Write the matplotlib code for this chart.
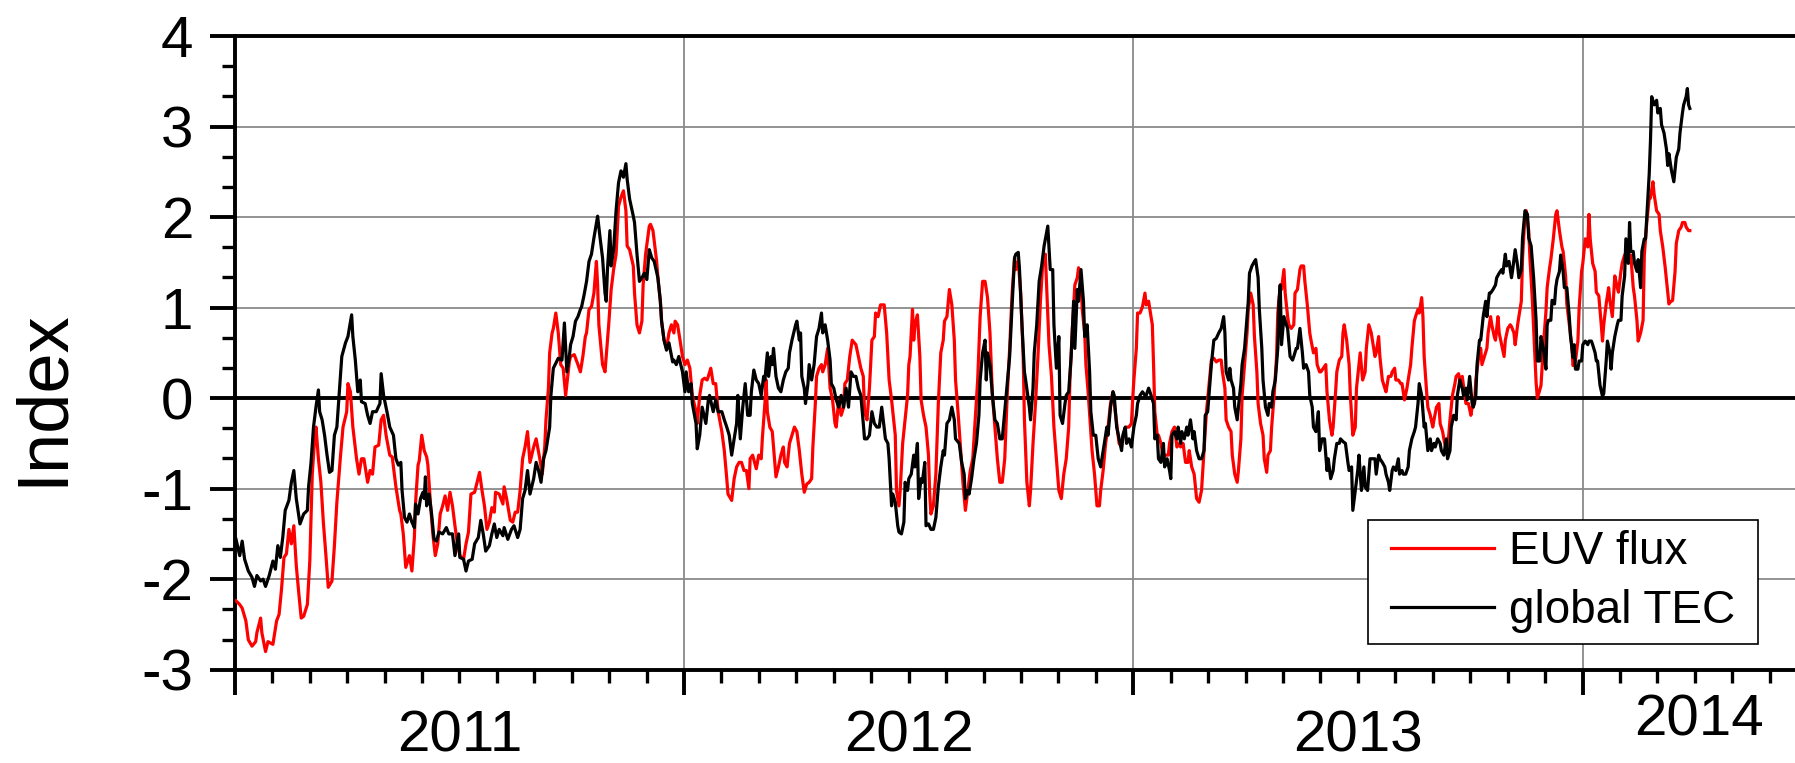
import numpy as np
import matplotlib
matplotlib.use('Agg')
import matplotlib.pyplot as plt
from matplotlib.ticker import FixedLocator
from matplotlib.patches import Rectangle

plt.rcParams['font.family'] = ['Liberation Sans', 'DejaVu Sans']
plt.rcParams['axes.unicode_minus'] = False

# days since 2011-01-01, global TEC index
tec_days = [
    1, 4, 6, 8, 11, 14, 16, 18, 21, 23, 25, 28, 31, 33, 35, 37, 39, 41, 44, 46,
    48, 50, 53, 56, 59, 60, 62, 64, 66, 68, 69, 71, 73, 75, 77, 79, 81, 83, 85, 87,
    90, 92, 95, 96, 98, 100, 102, 103, 106, 108, 110, 112, 115, 118, 119, 121, 124, 126, 129,
    131, 133, 135, 136, 138, 140, 142, 144, 146, 147, 149, 151, 153, 154, 155, 156, 158, 160, 162, 164,
    166, 169, 172, 174, 177, 179, 182, 183, 186, 188, 190, 193, 195, 198, 200, 202, 204, 207, 209, 211,
    213, 215, 218, 219, 222, 225, 227, 230, 232, 234, 236, 238, 240, 243, 245, 247, 249, 251, 253, 256,
    257, 259,
    263, 266, 268, 270, 272, 273, 275, 277, 279, 281, 282, 284, 286, 288, 290, 292, 293, 295, 297, 299,
    301, 302, 303, 305, 306, 308, 310, 312, 314, 316, 318, 319, 321, 324, 325, 327, 329, 331, 333, 335,
    337, 339, 341, 344, 346, 347, 349, 351, 353, 356, 357, 359, 361, 364, 366, 367, 369, 371, 372, 375,
    376, 378, 380, 383, 385, 386, 389, 391, 393,
    396, 398, 400, 402, 404, 406, 408, 409, 411, 413, 415, 417, 419, 420, 422, 424, 426, 428, 430, 431,
    433, 434, 436, 437, 438, 440, 442, 444, 446, 448, 450, 451, 453, 456, 457, 459, 460, 461, 463, 464,
    466, 467, 469, 471, 473, 475, 477, 478, 480, 482, 484, 485, 487, 489, 491, 493, 495, 497, 499, 501,
    503, 505, 507, 509, 511, 512, 514, 516, 518, 520, 522, 524, 526,
    529, 531, 532, 534, 535, 537, 539, 540, 542, 544, 545, 547, 548, 550, 552, 553, 555, 556, 558, 559,
    561, 562, 564, 566, 568, 570, 572, 574, 576, 577, 579, 581, 583, 585, 586, 589, 591, 593, 594, 596,
    597, 599, 601, 603, 605, 606, 608, 610, 611, 612, 614, 616, 618, 620, 622, 624, 626, 628, 630, 632,
    634, 635, 637, 638, 640, 642, 643, 646, 647, 649, 650, 652, 654, 656, 658,
    661, 663, 665, 666, 668, 670, 671, 673, 675, 676, 678, 680, 682, 683, 685, 686, 688, 690, 691, 693,
    695, 696, 698, 700, 702, 704, 705, 707, 709, 710, 712, 714, 715, 717, 719, 721, 722, 724, 725, 727,
    729, 731, 733, 734, 736, 738, 740, 741, 743, 745, 747, 748, 750, 751, 753, 755, 756, 758, 760, 761,
    762, 764, 766, 767, 769, 770, 772, 774, 775, 777, 779, 780, 782, 784, 786, 788, 789, 791,
    794, 796, 798, 800, 802, 804, 805, 806, 808, 809, 810, 812, 813, 815, 816, 818, 819, 821, 823, 824,
    825, 827, 829, 830, 832, 833, 835, 836, 838, 840, 841, 843, 844, 846, 848, 849, 850, 851, 853, 855,
    856, 858, 860, 861, 863, 864, 866, 868, 869, 871, 873, 874, 876, 877, 879, 881, 882, 884, 886, 888,
    889, 891, 893, 894, 896, 898, 899, 901, 903, 905, 906, 908, 909, 911, 913, 914, 916, 918, 919, 921,
    923,
    927, 928, 930, 931, 933, 935, 936, 938, 939, 941, 942, 944, 946, 947, 949, 950, 952, 954, 955, 957,
    959, 960, 962, 963, 965, 967, 968, 970, 972, 973, 975, 976, 978, 980, 981, 983, 985, 986, 988, 989,
    991, 993, 994, 996, 998, 999, 1001, 1002, 1004, 1006, 1007, 1009, 1010, 1012, 1013, 1015, 1017, 1018, 1020, 1021,
    1023, 1025, 1026, 1028, 1030, 1031, 1033, 1034, 1036, 1038, 1039, 1041, 1043, 1044, 1046, 1047, 1049, 1051, 1052, 1054,
    1056,
    1058, 1059, 1061, 1062, 1064, 1066, 1067, 1068, 1070, 1071, 1073, 1074, 1075, 1077, 1078, 1080, 1081, 1083, 1085, 1086,
    1088, 1089, 1090, 1092, 1093, 1095, 1096, 1098, 1100, 1101, 1103, 1104, 1106, 1107, 1108, 1110, 1112, 1113, 1115, 1116,
    1118, 1119, 1120, 1122, 1124, 1125, 1127, 1128, 1130, 1131, 1133, 1134, 1135, 1137, 1138, 1140, 1141, 1143, 1144, 1146,
    1147, 1149, 1150, 1151, 1152, 1154, 1156, 1157, 1159, 1160, 1162, 1164, 1165, 1166, 1168, 1170, 1171, 1172, 1174, 1175,
    1177, 1178, 1180, 1181, 1182, 1183,
]
tec_vals = [
    -1.56, -1.74, -1.58, -1.78, -1.91, -1.98, -2.08, -1.96, -2.02, -2.00, -2.08, -1.96, -1.80, -1.89, -1.63, -1.76, -1.54, -1.24, -1.13, -0.93,
    -0.80, -1.11, -1.39, -1.28, -1.24, -0.98, -0.71, -0.32, -0.10, 0.09, -0.15, -0.24, -0.41, -0.63, -0.82, -0.80, -0.41, -0.32, 0.07, 0.46,
    0.61, 0.68, 0.92, 0.68, 0.42, 0.07, 0.20, -0.04, -0.06, -0.19, -0.28, -0.15, -0.15, -0.06, 0.27, 0.03, -0.17, -0.32, -0.41,
    -0.67, -0.74, -0.71, -1.02, -1.32, -1.37, -1.28, -1.37, -1.43, -1.17, -1.28, -1.11, -1.04, -1.11, -0.87, -1.19, -1.06, -1.28, -1.56, -1.58,
    -1.48, -1.50, -1.43, -1.50, -1.50, -1.74, -1.50, -1.76, -1.78, -1.91, -1.80, -1.78, -1.61, -1.54, -1.35, -1.50, -1.69, -1.63, -1.50, -1.39,
    -1.54, -1.45, -1.52, -1.43, -1.56, -1.45, -1.41, -1.54, -1.45, -1.11, -1.02, -0.80, -1.06, -0.89, -0.71, -0.80, -0.93, -0.67, -0.58, -0.32,
    0.03, 0.33,
    0.44, 0.42, 0.83, 0.29, 0.46, 0.59, 0.68, 0.85, 0.90, 0.98, 1.01, 1.14, 1.29, 1.51, 1.59, 1.77, 1.85, 2.01, 1.77, 1.55,
    1.16, 1.07, 1.42, 1.85, 1.46, 1.64, 2.07, 2.38, 2.51, 2.44, 2.59, 2.42, 2.20, 2.01, 1.94, 1.59, 1.29, 1.33, 1.38, 1.31,
    1.64, 1.55, 1.51, 1.33, 1.07, 0.85, 0.64, 0.53, 0.61, 0.40, 0.42, 0.37, 0.46, 0.29, 0.07, 0.29, 0.07, 0.16, -0.06, -0.28,
    -0.56, -0.41, -0.10, -0.28, -0.02, 0.03, -0.15, -0.02, -0.15,
    -0.15, -0.24, -0.32, -0.41, -0.63, -0.45, -0.28, 0.03, -0.45, -0.10, 0.16, -0.19, -0.19, 0.07, 0.31, 0.20, 0.16, 0.03, 0.24, 0.20,
    0.50, 0.24, 0.46, 0.37, 0.55, 0.24, 0.11, 0.07, 0.20, 0.29, 0.33, 0.50, 0.64, 0.81, 0.85, 0.64, 0.72, 0.24, 0.11, -0.06,
    0.16, 0.37, 0.20, 0.37, 0.68, 0.77, 0.94, 0.72, 0.81, 0.64, 0.42, 0.16, 0.11, -0.02, -0.10, 0.03, -0.10, 0.11, -0.10, 0.29,
    0.24, 0.24, 0.11, 0.03, -0.28, -0.45, -0.45, -0.41, -0.15, -0.28, -0.32, -0.32, -0.10,
    -0.45, -0.50, -0.67, -1.19, -1.06, -1.15, -1.41, -1.48, -1.50, -1.37, -0.93, -1.02, -0.89, -0.84, -0.63, -0.76, -0.50, -1.11, -0.89, -0.93,
    -0.71, -1.41, -1.39, -1.45, -1.45, -1.32, -0.98, -0.76, -0.58, -0.63, -0.28, -0.24, -0.10, -0.24, -0.45, -0.50, -0.71, -0.84, -1.11, -1.02,
    -1.06, -0.89, -0.67, -0.50, -0.19, 0.20, 0.50, 0.64, 0.20, 0.50, 0.37, 0.03, -0.24, -0.28, -0.45, -0.45, -0.15, 0.16, 0.46, 1.03,
    1.55, 1.59, 1.61, 1.42, 0.81, 0.29, 0.20, -0.10, -0.24, 0.11, 0.50, 0.81, 1.29, 1.46, 1.68,
    1.90, 1.42, 1.42, 0.81, 0.33, 0.68, -0.19, -0.28, -0.06, 0.03, 0.07, 0.46, 1.07, 0.55, 1.20, 1.07, 1.42, 1.07, 0.68, 0.81,
    0.29, -0.15, -0.41, -0.41, -0.67, -0.76, -0.67, -0.50, -0.32, -0.41, -0.10, 0.07, 0.03, -0.32, -0.45, -0.58, -0.41, -0.32, -0.50, -0.45,
    -0.54, -0.32, -0.19, -0.06, 0.03, 0.07, 0.03, 0.03, 0.11, 0.03, -0.06, -0.45, -0.41, -0.67, -0.71, -0.50, -0.76, -0.67, -0.80, -0.89,
    -0.41, -0.37, -0.45, -0.32, -0.50, -0.37, -0.45, -0.32, -0.41, -0.24, -0.45, -0.37, -0.58, -0.67, -0.67, -0.58, -0.19, -0.15,
    0.37, 0.64, 0.66, 0.72, 0.77, 0.90, 0.72, 0.29, 0.20, 0.33, 0.20, 0.11, -0.10, -0.24, -0.10, 0.16, 0.37, 0.55, 0.90, 1.07,
    1.38, 1.46, 1.51, 1.53, 1.33, 0.98, 0.55, 0.20, -0.10, -0.19, -0.06, -0.10, 0.07, 0.20, 0.55, 1.07, 1.25, 0.59, 0.90, 0.81,
    0.77, 0.46, 0.42, 0.46, 0.55, 0.55, 0.77, 0.50, 0.33, 0.37, 0.29, 0.03, -0.10, -0.32, -0.37, -0.15, -0.58, -0.45, -0.45, -0.80,
    -0.67, -0.89, -0.80, -0.67, -0.50, -0.50, -0.45, -0.48, -0.50, -0.71, -0.80, -0.76, -1.24, -1.02, -0.80, -0.63, -1.02, -0.76, -0.98, -1.02,
    -0.67,
    -0.67, -0.84, -0.63, -0.67, -0.71, -0.76, -0.84, -0.93, -1.02, -0.80, -0.76, -0.80, -0.67, -0.84, -0.80, -0.84, -0.84, -0.76, -0.58, -0.45,
    -0.37, -0.32, -0.06, 0.16, 0.03, -0.32, -0.28, -0.58, -0.45, -0.58, -0.50, -0.54, -0.45, -0.50, -0.58, -0.63, -0.45, -0.67, -0.58, -0.32,
    -0.19, -0.24, 0.03, 0.20, 0.11, 0.03, 0.11, -0.02, 0.24, -0.06, -0.10, 0.03, 0.37, 0.64, 0.64, 0.90, 1.07, 0.90, 1.16, 1.16,
    1.20, 1.25, 1.33, 1.38, 1.42, 1.38, 1.59, 1.46, 1.51, 1.33, 1.42, 1.64, 1.46, 1.33, 1.42, 1.77, 2.07, 2.03, 1.77, 1.68,
    1.33,
    0.86, 0.41, 0.41, 0.68, 0.54, 0.32, 0.81, 0.86, 0.86, 1.08, 1.04, 1.22, 1.31, 1.40, 1.58, 1.40, 1.22, 1.22, 0.90, 0.68,
    0.45, 0.59, 0.32, 0.32, 0.41, 0.41, 0.59, 0.63, 0.59, 0.63, 0.63, 0.59, 0.50, 0.41, 0.41, 0.14, 0.02, 0.05, 0.41, 0.63,
    0.50, 0.32, 0.50, 0.68, 0.81, 0.86, 0.86, 1.13, 1.35, 1.76, 1.49, 1.94, 1.62, 1.62, 1.49, 1.40, 1.53, 1.22, 1.62, 1.76,
    1.76, 2.25, 2.48, 2.84, 3.33, 3.24, 3.29, 3.15, 3.20, 3.02, 2.93, 2.75, 2.57, 2.70, 2.52, 2.39, 2.52, 2.66, 2.75, 2.93,
    3.15, 3.24, 3.33, 3.42, 3.24, 3.20,
]

# days since 2011-01-01, EUV flux index
euv_days = [
    1, 4, 6, 9, 11, 14, 17, 18, 21, 22, 25, 27, 31, 34, 36, 38, 40, 42, 44, 46,
    48, 50, 52, 54, 56, 59, 61, 63, 65, 66, 68, 70, 72, 74, 76, 79, 81, 83, 86, 88,
    91, 92, 94, 96, 99, 101, 103, 105, 108, 110, 112, 114, 117, 119, 121, 123, 126, 128,
    131, 134, 135, 137, 139, 142, 144, 146, 147, 149, 150, 152, 154, 156, 157, 159, 161, 163, 165, 167,
    169, 171, 173, 175, 177, 179, 181, 183, 186, 188, 190, 192, 195, 199, 201, 203, 205, 207, 209, 211,
    212, 215, 218, 219, 221, 224, 226, 228, 230, 232, 234, 236, 238, 240, 243, 245, 248, 250, 252, 253,
    255, 256, 258, 259, 261,
    263, 265, 267, 269, 272, 273, 276, 279, 281, 283, 285, 286, 288, 290, 292, 294, 295, 296, 299, 301,
    302, 304, 306, 308, 310, 312, 314, 316, 318, 319, 321, 324, 325, 327, 329, 331, 332, 334, 337, 338,
    340, 343, 344, 346, 347, 349, 351, 353, 355, 357, 358, 360, 362, 364, 366, 368, 370, 372, 375, 376,
    378, 380, 382, 384, 385, 387, 389, 391, 393,
    396, 398, 400, 401, 404, 406, 408, 410, 412, 414, 416, 418, 419, 421, 424, 426, 428, 429, 431, 432,
    433, 435, 437, 439, 440, 442, 444, 446, 447, 449, 451, 453, 455, 457, 459, 461, 463, 465, 467, 469,
    470, 472, 473, 475, 477, 478, 480, 482, 484, 486, 488, 489, 491, 493, 495, 496, 498, 500, 502, 505,
    507, 509, 511, 512, 514, 516, 518, 520, 521, 523, 525,
    528, 530, 532, 534, 537, 538, 540, 541, 543, 545, 547, 548, 549, 551, 552, 553, 555, 557, 558, 560,
    562, 564, 565, 566, 568, 570, 572, 574, 576, 577, 579, 581, 583, 585, 586, 588, 590, 592, 594, 596,
    598, 600, 602, 604, 606, 608, 610, 612, 614, 616, 618, 620, 622, 624, 626, 628, 630, 632, 634, 635,
    637, 639, 641, 642, 644, 646, 647, 649, 651, 653, 655, 657, 659,
    660, 662, 664, 666, 668, 670, 672, 674, 676, 678, 679, 681, 683, 685, 686, 688, 689, 691, 692, 694,
    696, 697, 699, 701, 703, 704, 706, 708, 710, 712, 714, 715, 717, 719, 721, 723, 725, 727, 729, 730,
    731, 733, 734, 736, 738, 740, 741, 743, 744, 746, 747, 748, 750, 751, 753, 755, 756, 759, 760, 762,
    764, 766, 768, 769, 771, 773, 775, 776, 778, 780, 782, 784, 786, 788, 790,
    794, 796, 798, 800, 802, 803, 805, 806, 808, 810, 811, 813, 815, 816, 818, 819, 821, 823, 824, 826,
    828, 829, 831, 832, 834, 836, 837, 839, 840, 842, 843, 845, 847, 848, 850, 851, 853, 854, 856, 857,
    859, 861, 862, 864, 866, 867, 869, 870, 872, 874, 875, 877, 879, 880, 882, 883, 885, 887, 888, 890,
    892, 893, 895, 896, 898, 900, 901, 902, 904, 906, 907, 909, 911, 912, 914, 915, 917, 919, 920, 922,
    924,
    927, 928, 930, 931, 933, 935, 936, 938, 940, 941, 943, 944, 946, 948, 949, 951, 953, 954, 956, 957,
    959, 960, 962, 963, 965, 966, 967, 969, 970, 972, 974, 975, 977, 979, 980, 982, 983, 985, 987, 988,
    990, 992, 993, 995, 996, 998, 1000, 1001, 1003, 1005, 1006, 1008, 1009, 1011, 1013, 1014, 1016, 1018, 1019, 1021,
    1022, 1024, 1025, 1027, 1028, 1030, 1032, 1033, 1035, 1037, 1038, 1040, 1041, 1043, 1044, 1046, 1047, 1049, 1050, 1052,
    1053, 1055,
    1058, 1059, 1061, 1062, 1064, 1066, 1067, 1069, 1070, 1072, 1074, 1075, 1077, 1079, 1080, 1082, 1083, 1085, 1087, 1088,
    1090, 1092, 1093, 1095, 1096, 1098, 1100, 1101, 1102, 1104, 1106, 1107, 1109, 1111, 1112, 1113, 1115, 1117, 1118, 1120,
    1122, 1124, 1125, 1127, 1128, 1130, 1132, 1133, 1135, 1137, 1138, 1140, 1141, 1143, 1145, 1146, 1148, 1150, 1151, 1153,
    1154, 1156, 1158, 1159, 1161, 1163, 1164, 1166, 1167, 1169, 1171, 1172, 1174, 1176, 1177, 1179, 1180, 1182, 1183,
]
euv_vals = [
    -2.24, -2.28, -2.32, -2.46, -2.67, -2.74, -2.69, -2.59, -2.43, -2.59, -2.80, -2.69, -2.72, -2.46, -2.39, -2.11, -1.76, -1.72, -1.45, -1.61,
    -1.41, -1.85, -2.15, -2.43, -2.41, -2.28, -1.80, -0.84, -0.43, -0.32, -0.67, -0.93, -1.37, -1.72, -2.09, -2.02, -1.63, -1.15, -0.63, -0.32,
    -0.15, 0.16, 0.07, -0.32, -0.67, -0.84, -0.67, -0.67, -0.93, -0.80, -0.84, -0.54, -0.52, -0.24, -0.19, -0.41, -0.63, -0.65,
    -0.98, -1.24, -1.28, -1.50, -1.87, -1.74, -1.91, -1.54, -1.15, -0.74, -0.69, -0.41, -0.58, -0.65, -0.74, -1.15, -1.50, -1.74, -1.61, -1.28,
    -1.19, -1.08, -1.24, -1.04, -1.19, -1.41, -1.61, -1.74, -1.78, -1.61, -1.48, -1.06, -1.04, -0.82, -1.02, -1.19, -1.45, -1.37, -1.21, -1.26,
    -1.04, -1.06, -1.17, -0.98, -1.11, -1.35, -1.37, -1.26, -1.26, -1.02, -0.67, -0.54, -0.37, -0.71, -0.54, -0.45, -0.67, -0.84, -0.54, -0.24,
    0.11, 0.50, 0.72, 0.77, 0.94,
    0.72, 0.37, 0.33, 0.03, 0.40, 0.46, 0.48, 0.37, 0.29, 0.46, 0.68, 0.72, 0.98, 1.01, 1.16, 1.51, 1.25, 0.81, 0.37, 0.29,
    0.46, 0.81, 1.20, 1.42, 1.59, 2.12, 2.22, 2.29, 2.07, 1.68, 1.64, 1.46, 1.16, 0.81, 0.72, 0.85, 1.25, 1.59, 1.90, 1.92,
    1.85, 1.51, 1.33, 1.07, 0.85, 0.64, 0.55, 0.72, 0.81, 0.72, 0.85, 0.81, 0.64, 0.46, 0.37, 0.42, 0.33, 0.03, -0.15, -0.28,
    0.03, 0.20, 0.22, 0.20, 0.24, 0.33, 0.16, 0.16, -0.15,
    -0.37, -0.58, -0.89, -1.06, -1.13, -0.89, -0.76, -0.71, -0.71, -0.80, -0.80, -1.00, -0.67, -0.63, -0.78, -0.63, -0.67, -0.43, -0.06, 0.20,
    -0.15, -0.32, -0.37, -0.71, -0.87, -0.76, -0.63, -0.54, -0.71, -0.76, -0.50, -0.41, -0.32, -0.37, -0.58, -0.84, -1.04, -0.95, -0.93, -0.89,
    -0.54, -0.06, 0.24, 0.33, 0.37, 0.29, 0.37, 0.55, 0.11, -0.02, -0.28, -0.32, -0.02, -0.19, -0.10, 0.16, 0.20, 0.46, 0.64, 0.59,
    0.46, 0.33, 0.24, -0.15, -0.24, 0.11, 0.64, 0.68, 0.94, 0.90, 1.03,
    1.03, 0.72, 0.20, -0.02, -0.41, -1.02, -1.19, -1.02, -0.50, -0.24, 0.03, 0.37, 0.46, 0.98, 0.64, 0.81, 0.92, 0.46, -0.02, -0.19,
    -0.32, -0.63, -1.06, -1.28, -1.19, -0.84, -0.06, 0.50, 0.64, 0.85, 0.90, 1.20, 1.03, 0.64, 0.20, -0.15, -0.54, -0.93, -1.24, -1.02,
    -0.80, -0.67, -0.24, 0.20, 0.90, 1.29, 1.29, 1.11, 0.72, 0.03, -0.32, -0.67, -0.93, -0.93, -0.67, 0.03, 0.55, 1.16, 1.55, 1.42,
    1.51, 1.16, 0.46, -0.24, -0.93, -1.19, -1.02, -0.50, -0.06, 0.46, 1.07, 1.51, 1.59,
    1.25, 0.59, 0.24, -0.32, -0.67, -1.02, -1.11, -0.84, -0.67, -0.32, 0.20, 0.77, 1.25, 1.33, 1.44, 1.29, 0.98, 0.72, 0.37, 0.03,
    -0.37, -0.58, -0.84, -1.19, -1.19, -1.02, -0.80, -0.50, -0.32, -0.06, 0.07, -0.06, -0.28, -0.50, -0.54, -0.37, -0.32, -0.32, -0.28, -0.02,
    0.20, 0.55, 0.94, 0.94, 1.01, 1.16, 1.03, 1.07, 0.98, 0.81, 0.37, -0.15, -0.41, -0.41, -0.50, -0.67, -0.63, -0.63, -0.50, -0.37,
    -0.32, -0.54, -0.50, -0.54, -0.50, -0.71, -0.71, -0.58, -0.76, -0.84, -1.11, -1.15, -1.02, -0.58, -0.15,
    0.42, 0.44, 0.40, 0.42, 0.42, 0.29, 0.11, -0.24, -0.32, -0.37, -0.63, -0.84, -0.93, -0.80, -0.45, 0.03, 0.37, 0.72, 0.98, 1.16,
    1.03, 0.68, 0.29, -0.06, -0.28, -0.41, -0.67, -0.82, -0.63, -0.58, -0.32, 0.03, 0.46, 0.94, 1.25, 1.20, 1.42, 1.16, 0.90, 0.81,
    0.77, 0.81, 1.16, 1.20, 1.42, 1.46, 1.46, 1.29, 1.03, 0.72, 0.64, 0.50, 0.55, 0.37, 0.29, 0.29, 0.33, 0.37, 0.07, -0.24,
    -0.41, -0.32, 0.07, 0.29, 0.42, 0.46, 0.72, 0.81, 0.64, 0.37, 0.03, -0.41, -0.32, 0.11, 0.37, 0.50, 0.20, 0.29, 0.55, 0.81,
    0.72,
    0.46, 0.50, 0.68, 0.46, 0.20, 0.11, 0.07, 0.24, 0.24, 0.29, 0.33, 0.20, 0.20, 0.16, 0.16, -0.02, 0.11, 0.20, 0.37, 0.55,
    0.85, 0.90, 0.98, 0.94, 1.11, 0.90, 0.46, 0.07, -0.10, -0.19, -0.32, -0.24, -0.10, -0.06, -0.28, -0.37, -0.45, -0.58, -0.41, -0.24,
    0.03, 0.16, 0.24, 0.27, 0.20, 0.24, 0.03, -0.06, -0.06, -0.19, -0.10, -0.06, 0.20, 0.42, 0.55, 0.37, 0.46, 0.55, 0.72, 0.90,
    0.81, 0.68, 0.64, 0.90, 0.72, 0.59, 0.46, 0.64, 0.77, 0.81, 0.79, 0.72, 0.59, 0.81, 0.90, 1.07, 1.55, 2.03, 2.07, 1.85,
    1.55, 1.07,
    0.18, 0.00, 0.09, 0.14, 0.59, 0.95, 1.22, 1.44, 1.53, 1.76, 2.03, 2.07, 1.85, 1.67, 1.62, 1.35, 1.04, 0.81, 0.59, 0.36,
    0.41, 0.63, 0.99, 1.40, 1.49, 1.76, 1.67, 2.03, 1.76, 1.49, 1.40, 1.17, 1.13, 0.81, 0.63, 0.81, 1.04, 1.22, 1.08, 0.90,
    1.35, 1.22, 1.17, 1.40, 1.49, 1.58, 1.62, 1.49, 1.58, 1.22, 1.13, 0.86, 0.63, 0.72, 0.86, 1.58, 1.94, 2.21, 2.21, 2.39,
    2.25, 2.07, 2.03, 1.85, 1.67, 1.44, 1.31, 1.04, 1.06, 1.08, 1.40, 1.71, 1.85, 1.89, 1.94, 1.94, 1.89, 1.85, 1.85,
]

year_labels = ['2011', '2012', '2013', '2014']
year_label_x = [2011.5, 2012.5, 2013.5, 2014.26]
year_label_y = [-0.106, -0.106, -0.106, -0.080]

assert len(tec_days) == len(tec_vals), (len(tec_days), len(tec_vals))
assert len(euv_days) == len(euv_vals), (len(euv_days), len(euv_vals))


def to_year(days):
    return 2011 + np.asarray(days, dtype=float) / 365.25


fig = plt.figure(figsize=(17.95, 7.63), dpi=100)
ax = fig.add_axes([0.1308, 0.1223, 0.8692, 0.8305])

ax.plot(to_year(euv_days), euv_vals, color='#ff0000', lw=2.3, label='EUV flux', zorder=3)
ax.plot(to_year(tec_days), tec_vals, color='black', lw=2.3, label='global TEC', zorder=4)
ax.axhline(0, color='black', lw=2.8, zorder=2)

ax.set_xlim(2011, 2014.473)
ax.set_ylim(-3, 4)

ax.xaxis.set_major_locator(FixedLocator([2011, 2012, 2013, 2014]))
ax.xaxis.set_minor_locator(FixedLocator(2011 + np.arange(0, 42) / 12.0))
ax.yaxis.set_major_locator(FixedLocator(np.arange(-3, 5)))
ax.yaxis.set_minor_locator(FixedLocator(-3 + np.arange(0, 22) / 3.0))

ax.grid(True, which='major', color='#8a8a8a', lw=1.3, zorder=0)
ax.set_axisbelow(True)

ax.spines['right'].set_visible(False)
for s in ['left', 'bottom', 'top']:
    ax.spines[s].set_linewidth(2.8)

ax.tick_params(axis='both', which='major', direction='out', length=18, width=2.8,
               labelsize=42, top=False, right=False)
ax.tick_params(axis='both', which='minor', direction='out', length=9.5, width=2.4,
               top=False, right=False)
ax.tick_params(axis='y', which='major', pad=12)
ax.tick_params(axis='x', which='both', labelbottom=False)

for lab, xv, yv in zip(year_labels, year_label_x, year_label_y):
    ax.text(xv, yv, lab, transform=ax.get_xaxis_transform(), ha='center', va='center',
            fontsize=42, clip_on=False)

fig.text(43 / 1795, 1 - 398 / 763, 'Index', rotation=90, ha='center', va='center', fontsize=52)

# legend box drawn by hand so its padding can match the original
box = Rectangle((1368 / 1795, 1 - 644 / 763), 390 / 1795, 124 / 763, transform=fig.transFigure,
                facecolor='white', edgecolor='black', lw=1.2, zorder=5)
fig.add_artist(box)
leg = fig.legend(*ax.get_legend_handles_labels(), loc='center',
                 bbox_to_anchor=(1563 / 1795, 1 - 581.5 / 763), bbox_transform=fig.transFigure,
                 borderaxespad=0, borderpad=0, fontsize=33, frameon=False,
                 handlelength=2.25, handletextpad=0.33, labelspacing=0.32)
leg.set_zorder(6)
for line in leg.get_lines():
    line.set_linewidth(2.3)

fig.savefig('out.png', dpi=100)
